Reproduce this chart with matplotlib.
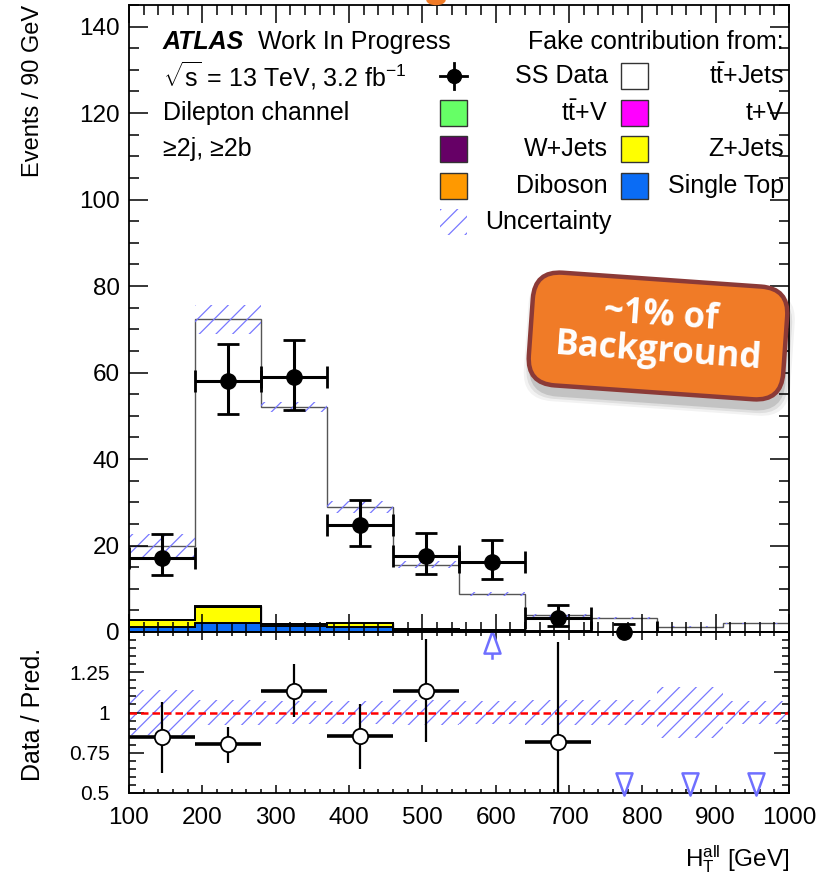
import matplotlib
matplotlib.use("Agg")
import matplotlib.pyplot as plt
import matplotlib.patches as mpatches
from matplotlib.path import Path
from matplotlib.transforms import Affine2D
from matplotlib.ticker import MultipleLocator, FixedLocator
import numpy as np

plt.rcParams["font.family"] = ["Liberation Sans", "DejaVu Sans"]
plt.rcParams["mathtext.fontset"] = "custom"
plt.rcParams["mathtext.rm"] = "Liberation Sans"
plt.rcParams["mathtext.it"] = "Liberation Sans:italic"
plt.rcParams["mathtext.bf"] = "Liberation Sans:bold"
plt.rcParams["hatch.linewidth"] = 0.9

# ---------------------------------------------------------------------------
# Data
# ---------------------------------------------------------------------------
bin_edges = [100, 190, 280, 370, 460, 550, 640, 730, 820, 910, 1000]

# stacked fake contributions, bottom -> top
single_top = [1.2, 2.0, 1.4, 1.1, 0.5, 0.35, 0.1, 0.05, 0.05, 0.1]
diboson = [0.05, 0.1, 0.05, 0.05, 0.03, 0.02, 0.01, 0.0, 0.0, 0.0]
w_jets = [0.0, 0.0, 0.0, 0.0, 0.0, 0.0, 0.0, 0.0, 0.0, 0.0]
z_jets = [1.5, 3.7, 0.3, 0.9, 0.1, 0.05, 0.0, 0.0, 0.0, 0.0]
t_v = [0.02, 0.05, 0.03, 0.02, 0.01, 0.01, 0.0, 0.0, 0.0, 0.0]
tt_v = [0.03, 0.05, 0.02, 0.03, 0.02, 0.01, 0.01, 0.0, 0.0, 0.0]
tt_jets = [17.2, 66.4, 50.2, 26.9, 14.9, 8.4, 3.73, 3.15, 1.15, 1.9]

# absolute uncertainty on the total prediction
pred_unc = [2.7, 3.3, 1.1, 1.4, 0.8, 0.4, 0.3, 0.25, 0.15, 0.15]
# relative uncertainty drawn in the ratio panel
ratio_unc = [0.14, 0.08, 0.07, 0.07, 0.08, 0.07, 0.08, 0.08, 0.16, 0.07]

# same-sign data
data = [17.0, 58.0, 59.0, 24.7, 17.6, 16.2, 3.15, 0.0, 0.0, 0.0]
data_err_lo = [3.8, 7.6, 7.7, 4.9, 4.1, 4.0, 1.7, 0.0, 0.0, 0.0]
data_err_hi = [5.6, 8.5, 8.6, 5.9, 5.3, 5.0, 3.0, 1.85, 0.0, 0.0]
n_data_drawn = 8

# ratio error bar ends
ratio_lo_end = [0.627, 0.686, 0.973, 0.648, 0.815, 0.0, 0.45, 0.0, 0.0, 0.0]
ratio_hi_end = [1.064, 0.910, 1.300, 1.050, 1.456, 0.0, 1.435, 0.0, 0.0, 0.0]

layers = [
    ("Single Top", single_top, "#0A6CF5"),
    ("Diboson", diboson, "#FF9900"),
    ("W+Jets", w_jets, "#660066"),
    ("Z+Jets", z_jets, "#FFFF00"),
    ("t+V", t_v, "#FF00FF"),
    (r"$\mathrm{t\bar{t}}$+V", tt_v, "#66FF66"),
]

HATCH_COLOR = "#7878ff"
ARROW_COLOR = "#6f6fff"

# ---------------------------------------------------------------------------
# Figure / axes
# ---------------------------------------------------------------------------
W, H = 827, 875
fig = plt.figure(figsize=(W / 100, H / 100), dpi=100)
ax = fig.add_axes([129 / W, 1 - 632 / H, 660 / W, 627 / H])
rax = fig.add_axes([129 / W, 1 - 793 / H, 660 / W, 161 / H], sharex=ax)
ax.set_zorder(3)   # so the data point at zero is not hidden by the ratio pad

edges = np.array(bin_edges, dtype=float)
centers = 0.5 * (edges[:-1] + edges[1:])
widths = np.diff(edges)

# --- stacked histogram ---
bottom = np.zeros(len(centers))
for name, vals, color in layers:
    top = bottom + np.array(vals)
    ax.stairs(top, edges, baseline=bottom, fill=True, facecolor=color,
              edgecolor="black", linewidth=1.4, zorder=1)
    bottom = top
total = bottom + np.array(tt_jets)
ax.stairs(total, edges, baseline=bottom, fill=True, facecolor="white",
          edgecolor="#555555", linewidth=1.0, zorder=0.9)

# --- uncertainty band ---
unc = np.array(pred_unc)
ax.bar(centers, 2 * unc, bottom=total - unc, width=widths, fill=False,
       hatch="//", edgecolor=HATCH_COLOR, linewidth=0, zorder=1.2)

# --- data ---
d = np.array(data)
nd = n_data_drawn
ax.errorbar(centers[:nd], d[:nd], xerr=widths[:nd] / 2,
            yerr=[np.array(data_err_lo)[:nd], np.array(data_err_hi)[:nd]],
            fmt="none", ecolor="black", elinewidth=2.2, capsize=8,
            capthick=2.0, zorder=5)
# markers unclipped so the zero entry shows as a full dot on the axis
ax.plot(centers[:nd], d[:nd], "o", color="black", ms=11, zorder=6,
        clip_on=False, linestyle="none")

ax.set_xlim(100, 1000)
ax.set_ylim(0, 145)
ax.yaxis.set_major_locator(MultipleLocator(20))
ax.yaxis.set_minor_locator(MultipleLocator(5))
ax.xaxis.set_major_locator(MultipleLocator(100))
ax.xaxis.set_minor_locator(MultipleLocator(20))
ax.tick_params(which="both", direction="in", top=True, right=True,
               width=1.1, labelbottom=False, labelsize=17.5, pad=6.5)
ax.tick_params(axis="y", which="major", length=14)
ax.tick_params(axis="y", which="minor", length=7)
ax.tick_params(axis="x", which="major", length=13)
ax.tick_params(axis="x", which="minor", length=7)
for sp in ax.spines.values():
    sp.set_linewidth(1.3)

# --- ratio panel ---
runc = np.array(ratio_unc)
rax.bar(centers, 2 * runc, bottom=1 - runc, width=widths, fill=False,
        hatch="//", edgecolor=HATCH_COLOR, linewidth=0, zorder=1)
rax.axhline(1.0, color="red", linewidth=1.8, linestyle=(0, (3, 1.6)), zorder=2)

ratio = d / total
inside = (ratio >= 0.5) & (ratio <= 1.5) & (np.arange(len(ratio)) < nd)
lo_end = np.array(ratio_lo_end)
hi_end = np.array(ratio_hi_end)
rax.errorbar(centers[inside], ratio[inside], xerr=widths[inside] / 2,
             fmt="none", ecolor="black", elinewidth=2.6, zorder=3)
rax.errorbar(centers[inside], ratio[inside],
             yerr=[ratio[inside] - lo_end[inside], hi_end[inside] - ratio[inside]],
             fmt="none", ecolor="black", elinewidth=1.6, zorder=3)
rax.plot(centers[inside], ratio[inside], "o", ms=11, mfc="white", mec="black",
         mew=1.3, zorder=4, linestyle="none")

tri_down = Path([(-0.36, 0.5), (0.36, 0.5), (0.0, -0.5), (-0.36, 0.5)],
                [Path.MOVETO, Path.LINETO, Path.LINETO, Path.CLOSEPOLY])
tri_up = Path([(-0.36, -0.5), (0.36, -0.5), (0.0, 0.5), (-0.36, -0.5)],
              [Path.MOVETO, Path.LINETO, Path.LINETO, Path.CLOSEPOLY])
up = ratio > 1.5
down = ratio < 0.5
for xc in centers[up]:
    rax.plot([xc, xc], [1.37, 1.34], color=ARROW_COLOR, lw=1.8, zorder=4)
rax.plot(centers[up], np.full(up.sum(), 1.4375), marker=tri_up, ms=16,
         mfc="white", mec=ARROW_COLOR, mew=1.8, linestyle="none", zorder=5,
         clip_on=False)
rax.plot(centers[down], np.full(down.sum(), 0.556), marker=tri_down, ms=16,
         mfc="white", mec=ARROW_COLOR, mew=1.8, linestyle="none", zorder=5,
         clip_on=False)

rax.set_ylim(0.5, 1.5)
rax.yaxis.set_major_locator(FixedLocator([0.5, 0.75, 1.0, 1.25]))
rax.yaxis.set_minor_locator(MultipleLocator(0.05))
rax.set_yticklabels(["0.5", "0.75", "1", "1.25"])
rax.tick_params(which="both", direction="in", top=True, right=True, width=1.1)
rax.tick_params(axis="y", which="major", length=11, labelsize=15, pad=14)
rax.tick_params(axis="y", which="minor", length=5)
rax.tick_params(axis="x", which="major", length=6, labelsize=17.5, pad=10)
rax.tick_params(axis="x", which="minor", length=3)
for sp in rax.spines.values():
    sp.set_linewidth(1.3)

# ---------------------------------------------------------------------------
# Overlay in figure pixels: labels, legend, callout
# ---------------------------------------------------------------------------
ov = fig.add_axes([0, 0, 1, 1])
ov.set_xlim(0, W)
ov.set_ylim(H, 0)
ov.axis("off")
ov.patch.set_alpha(0)
ov.set_zorder(5)

ov.text(33, 5, "Events / 90 GeV", rotation=90, ha="center", va="top", fontsize=17)
ov.text(33, 714, "Data / Pred.", rotation=90, ha="center", va="center", fontsize=18)
ov.text(789, 866, r"$\mathrm{H}_{\mathrm{T}}^{\mathrm{all}}$ [GeV]", ha="right",
        va="baseline", fontsize=17.5)

# ATLAS label block
ov.text(163, 42, "ATLAS", fontsize=18, fontweight="bold", fontstyle="italic",
        ha="left", va="center")
ov.text(258, 42, "Work In Progress", fontsize=18, ha="left", va="center")
ov.text(163, 76, r"$\sqrt{\mathrm{s}}$ = 13 TeV, 3.2 fb$^{\mathrm{-1}}$",
        fontsize=18, ha="left", va="center")
ov.text(163, 113, "Dilepton channel", fontsize=18, ha="left", va="center")
ov.text(163, 149, "≥2j, ≥2b", fontsize=18, ha="left", va="center")

# legend
ov.text(784, 42, "Fake contribution from:", fontsize=18, ha="right", va="center")
rows_y = [76, 113, 149, 186, 222]
left_x, right_x, bw, bh = 440, 621, 27, 26
left_lab_x, right_lab_x = 608, 784

# data entry
ov.plot([left_x, left_x + bw], [rows_y[0], rows_y[0]], color="black", lw=2)
ov.plot([left_x + bw / 2] * 2, [rows_y[0] - bh / 2, rows_y[0] + bh / 2],
        color="black", lw=2)
ov.plot([left_x + bw / 2], [rows_y[0]], "o", color="black", ms=10)
ov.text(left_lab_x, rows_y[0], "SS Data", fontsize=18, ha="right", va="center")

legend_boxes = [
    (right_x, rows_y[0], "white", r"$\mathrm{t\bar{t}}$+Jets", right_lab_x),
    (left_x, rows_y[1], "#66FF66", r"$\mathrm{t\bar{t}}$+V", left_lab_x),
    (right_x, rows_y[1], "#FF00FF", "t+V", right_lab_x),
    (left_x, rows_y[2], "#660066", "W+Jets", left_lab_x),
    (right_x, rows_y[2], "#FFFF00", "Z+Jets", right_lab_x),
    (left_x, rows_y[3], "#FF9900", "Diboson", left_lab_x),
    (right_x, rows_y[3], "#0A6CF5", "Single Top", right_lab_x),
]
for bx, by, fc, lab, lx in legend_boxes:
    ov.add_patch(mpatches.Rectangle((bx, by - bh / 2), bw, bh, facecolor=fc,
                                    edgecolor="#333333", linewidth=1.0))
    ov.text(lx, by, lab, fontsize=18, ha="right", va="center")

ov.add_patch(mpatches.Rectangle((left_x, rows_y[4] - bh / 2), bw, bh, fill=False,
                                hatch="//", edgecolor=HATCH_COLOR, linewidth=0))
ov.text(485, rows_y[4], "Uncertainty", fontsize=18, ha="left", va="center")

# clipped orange bit of the slide title above the plot
ov.add_patch(mpatches.Ellipse((436, 0), 18, 9, color="#F07B27"))

# callout box
cx, cy, bwid, bhei = 658, 336, 255, 113
rot = Affine2D().rotate_deg_around(cx, cy, 4)
for grow, alpha in [(12, 0.05), (7, 0.08), (2, 0.12)]:
    sh = mpatches.FancyBboxPatch(
        (cx - bwid / 2 - grow / 2 + 2, cy - bhei / 2 - grow / 2 + 10),
        bwid + grow, bhei + grow,
        boxstyle="round,pad=0,rounding_size=30", facecolor="black",
        edgecolor="none", alpha=alpha, transform=rot + ov.transData)
    ov.add_patch(sh)
box = mpatches.FancyBboxPatch(
    (cx - bwid / 2, cy - bhei / 2), bwid, bhei,
    boxstyle="round,pad=0,rounding_size=28", facecolor="#F07B27",
    edgecolor="#8B3A37", linewidth=3.2, transform=rot + ov.transData)
ov.add_patch(box)
ov.text(cx + 2, cy - 2, "~1% of\nBackground", rotation=-4, rotation_mode="anchor",
        ha="center", va="center", multialignment="center", linespacing=1.0,
        fontsize=25, fontweight="bold", color="white", family="Open Sans")

fig.savefig("out.png", dpi=100, facecolor="white")
plt.close(fig)
